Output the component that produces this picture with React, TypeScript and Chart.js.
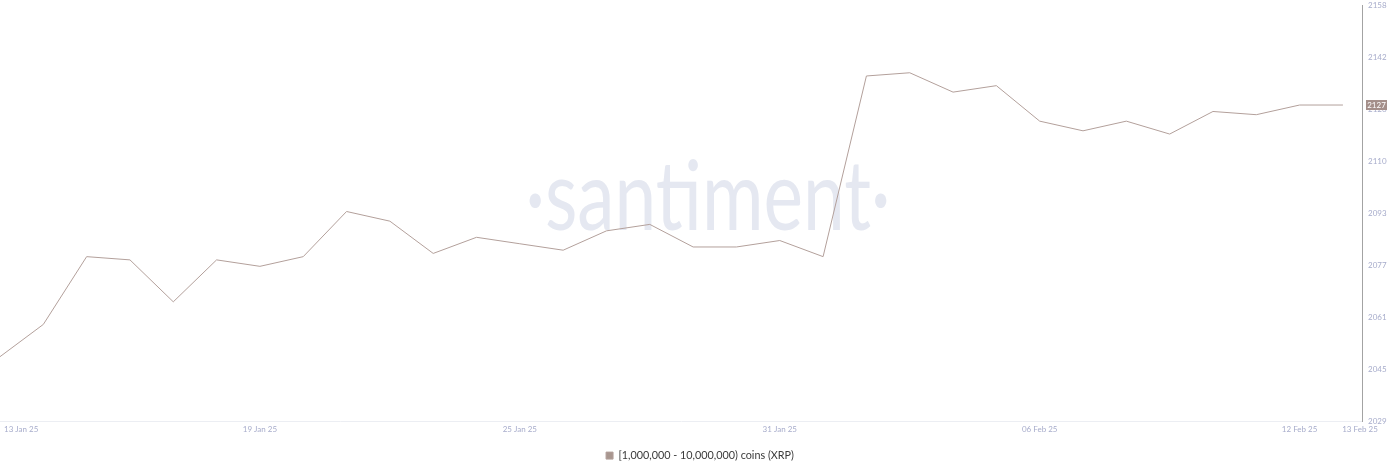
import React, { useEffect, useRef } from 'react';
import { Chart, registerables } from 'chart.js';

Chart.register(...registerables);

// daily holders count, 13 Jan 25 .. 13 Feb 25
const dates = [
  '13 Jan 25', '14 Jan 25', '15 Jan 25', '16 Jan 25', '17 Jan 25', '18 Jan 25', '19 Jan 25', '20 Jan 25',
  '21 Jan 25', '22 Jan 25', '23 Jan 25', '24 Jan 25', '25 Jan 25', '26 Jan 25', '27 Jan 25', '28 Jan 25',
  '29 Jan 25', '30 Jan 25', '31 Jan 25', '01 Feb 25', '02 Feb 25', '03 Feb 25', '04 Feb 25', '05 Feb 25',
  '06 Feb 25', '07 Feb 25', '08 Feb 25', '09 Feb 25', '10 Feb 25', '11 Feb 25', '12 Feb 25', '13 Feb 25',
];
const holders = [
  2049, 2059, 2080, 2079, 2066, 2079, 2077, 2080,
  2094, 2091, 2081, 2086, 2084, 2082, 2088, 2090,
  2083, 2083, 2085, 2080, 2136, 2137, 2131, 2133,
  2122, 2119, 2122, 2118, 2125, 2124, 2127, 2127,
];
const xTickIndexes = [0, 6, 12, 18, 24, 30];
const yTickLabels = ['2029', '2045', '2061', '2077', '2093', '2110', '2126', '2142', '2158'];
const seriesName = '[1,000,000 - 10,000,000) coins (XRP)';

const Y_MIN = 2029;
const Y_MAX = 2158;
const X_MAX = 31.44;
const LINE_COLOR = '#b3a09b';
const TICK_COLOR = '#a7accb';
const FONT = 'Lato';

const watermark = {
  id: 'watermark',
  beforeDatasetsDraw(chart: Chart) {
    const { ctx, chartArea } = chart;
    ctx.save();
    ctx.font = `normal 96px ${FONT}`;
    ctx.fillStyle = '#e5e8f1';
    ctx.textBaseline = 'alphabetic';
    ctx.textAlign = 'left';
    const text = '·santiment·';
    const w = ctx.measureText(text).width;
    const target = 365;
    const cx = (chartArea.left + chartArea.right) / 2 + 27;
    ctx.translate(cx - target / 2, 230);
    ctx.scale(target / w, 1);
    ctx.fillText(text, 0, 0);
    ctx.restore();
  },
};

const extras = {
  id: 'extras',
  afterDraw(chart: Chart) {
    const { ctx, chartArea, scales } = chart;
    const xs = scales.x;
    const ys = scales.y;
    ctx.save();
    ctx.font = `8px ${FONT}`;
    ctx.fillStyle = TICK_COLOR;
    ctx.textBaseline = 'middle';
    ctx.textAlign = 'left';
    const ty = chartArea.bottom + 8;
    xTickIndexes.forEach((i) => {
      const label = dates[i];
      const w = ctx.measureText(label).width;
      let x = xs.getPixelForValue(i) - w / 2;
      if (x < 4) x = 4;
      ctx.fillText(label, x, ty);
    });
    const last = dates[dates.length - 1];
    const lw = ctx.measureText(last).width;
    ctx.fillText(last, xs.getPixelForValue(X_MAX) - 2 - lw / 2, ty);

    // current value badge
    const v = holders[holders.length - 1];
    const py = ys.getPixelForValue(v);
    ctx.fillStyle = '#a48f8a';
    ctx.fillRect(chartArea.right + 4, py - 5, 21, 10);
    ctx.fillStyle = '#ffffff';
    ctx.textAlign = 'center';
    ctx.fillText(String(v), chartArea.right + 14.5, py + 0.5);
    ctx.restore();
  },
};

export default function App() {
  const canvasRef = useRef<HTMLCanvasElement>(null);
  const chartRef = useRef<Chart | null>(null);

  useEffect(() => {
    if (!canvasRef.current) return;
    if (chartRef.current) chartRef.current.destroy();

    const step = (Y_MAX - Y_MIN) / (yTickLabels.length - 1);

    chartRef.current = new Chart(canvasRef.current, {
      type: 'line',
      data: {
        datasets: [{
          label: seriesName,
          data: holders.map((v, i) => ({ x: i, y: v })),
          borderColor: LINE_COLOR,
          backgroundColor: '#a8968f',
          borderWidth: 1,
          pointRadius: 0,
          tension: 0,
        }],
      },
      options: {
        animation: false,
        responsive: false,
        devicePixelRatio: 1,
        layout: { padding: { top: 5, left: 0, right: 0, bottom: 2 } },
        scales: {
          x: {
            type: 'linear',
            min: 0,
            max: X_MAX,
            grid: { display: false },
            border: { display: true, color: '#eceef3' },
            ticks: { display: false },
            afterFit: (scale: any) => { scale.height = 19; },
          },
          y: {
            position: 'right',
            min: Y_MIN,
            max: Y_MAX,
            grid: { display: false, drawTicks: false },
            border: { display: true, color: '#a3a3a3' },
            afterBuildTicks: (scale: any) => {
              scale.ticks = yTickLabels.map((_, i) => ({ value: Y_MIN + i * step }));
            },
            ticks: {
              color: TICK_COLOR,
              font: { family: FONT, size: 8 },
              padding: 6,
              callback: (_v: any, i: number) => yTickLabels[i],
            },
            afterFit: (scale: any) => {
              scale.width = 38;
              scale.paddingTop = 0;
              scale.paddingBottom = 0;
            },
          },
        },
        plugins: {
          legend: {
            position: 'bottom',
            labels: {
              boxWidth: 7,
              boxHeight: 7,
              padding: 10,
              color: '#3a3a3a',
              font: { family: FONT, size: 10.8 },
            },
          },
          tooltip: { enabled: false },
        },
      },
      plugins: [watermark, extras],
    });

    return () => {
      if (chartRef.current) {
        chartRef.current.destroy();
        chartRef.current = null;
      }
    };
  }, []);

  return (
    <div style={{ position: 'absolute', left: 0, top: 0, width: 1400, height: 473, background: '#fff' }}>
      <canvas ref={canvasRef} width={1400} height={473} style={{ width: 1400, height: 473 }} />
    </div>
  );
}
